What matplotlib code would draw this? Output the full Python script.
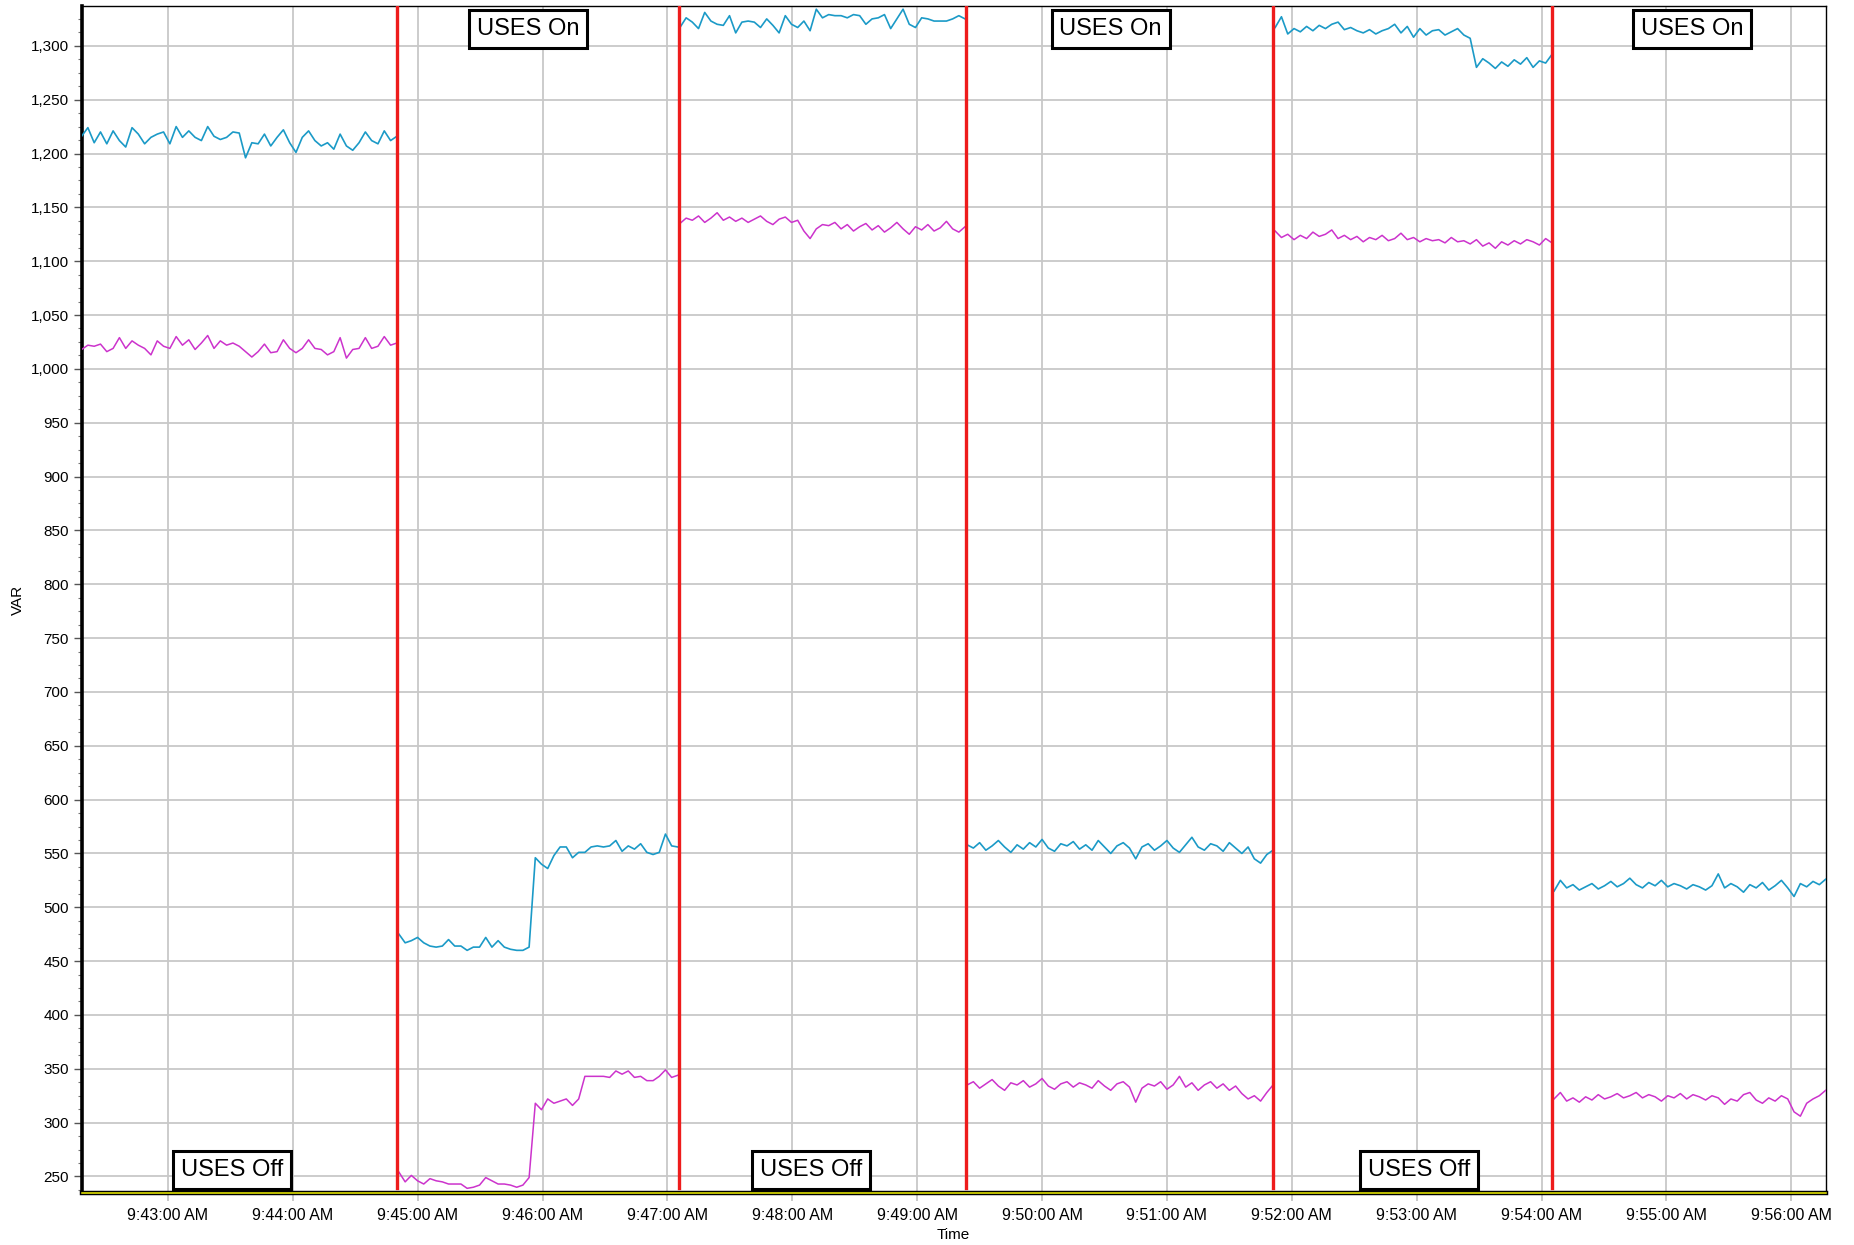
import matplotlib
matplotlib.use("Agg")
import matplotlib.pyplot as plt
import matplotlib.dates as mdates
from matplotlib.ticker import MultipleLocator, FuncFormatter
import numpy as np
import datetime as dt

plt.rcParams['font.family'] = ['Liberation Sans', 'DejaVu Sans']

# ---------------- data ----------------
x_start = "9:42:18.5"
x_end = "9:56:16.5"
seg_edges = ["9:42:18.5", "9:44:50.5", "9:47:05.5", "9:49:23.5", "9:51:51.5", "9:54:05.5", "9:56:16.5"]
red_lines = ["9:44:50.2", "9:47:05.4", "9:49:23.4", "9:51:51.1", "9:54:05.2"]

blue_seg1 = [1216, 1224, 1210, 1220, 1209, 1221, 1212, 1206, 1224, 1218, 1209, 1215, 1218,
             1220, 1209, 1225, 1215, 1221, 1215, 1212, 1225, 1216, 1213, 1215, 1220, 1219,
             1196, 1210, 1209, 1218, 1207, 1215, 1222, 1210, 1201, 1215, 1221, 1212, 1207,
             1210, 1204, 1218, 1207, 1203, 1210, 1220, 1212, 1209, 1221, 1212, 1216]
mag_seg1 = [1018, 1022, 1021, 1023, 1016, 1019, 1029, 1019, 1026, 1022, 1019, 1013, 1026,
            1021, 1019, 1030, 1022, 1027, 1018, 1024, 1031, 1019, 1026, 1022, 1024, 1021,
            1016, 1011, 1016, 1023, 1015, 1016, 1027, 1019, 1015, 1019, 1027, 1019, 1018,
            1013, 1016, 1029, 1010, 1018, 1019, 1029, 1019, 1021, 1030, 1022, 1024]

blue_seg2 = [475, 467, 469, 472, 467, 464, 463, 464, 470, 464, 464, 460, 463, 463, 472,
             463, 469, 463, 461, 460, 460, 463,
             546, 540, 536, 548, 556, 556, 546, 551, 551, 556, 557, 556, 557, 562, 552,
             557, 554, 559, 551, 549, 551, 568, 557, 556]
mag_seg2 = [254, 245, 251, 246, 243, 248, 246, 245, 243, 243, 243, 239, 240, 242, 249,
            246, 243, 243, 242, 240, 242, 249,
            318, 312, 322, 318, 320, 322, 316, 322,
            343, 343, 343, 343, 342, 348, 345, 348, 342, 343, 339, 339, 343, 349, 342, 344]

blue_seg3 = [1317, 1326, 1322, 1316, 1331, 1323, 1320, 1319, 1328, 1312, 1322, 1323, 1322,
             1317, 1325, 1319, 1312, 1328, 1320, 1317, 1323, 1314, 1334, 1326, 1329, 1328,
             1328, 1326, 1329, 1328, 1320, 1325, 1326, 1329, 1316, 1325, 1334, 1320, 1317,
             1326, 1325, 1323, 1323, 1323, 1325, 1328, 1325]
mag_seg3 = [1135, 1140, 1138, 1142, 1136, 1140, 1145, 1138, 1141, 1137, 1140, 1136, 1139,
            1142, 1137, 1134, 1139, 1141, 1136, 1138, 1128, 1121, 1130, 1134, 1133, 1136,
            1130, 1134, 1128, 1132, 1135, 1129, 1133, 1127, 1131, 1136, 1130, 1125, 1132,
            1129, 1134, 1128, 1131, 1137, 1130, 1127, 1132]

blue_seg4 = [558, 555, 560, 553, 557, 562, 556, 551, 558, 554, 560, 556, 563, 555, 552,
             559, 557, 561, 554, 558, 553, 562, 556, 550, 557, 560, 555, 545, 556, 559,
             553, 557, 562, 555, 551, 558, 565, 556, 553, 559, 557, 552, 560, 555, 550,
             556, 545, 541, 549, 553]
mag_seg4 = [335, 338, 332, 336, 340, 334, 330, 337, 335, 339, 333, 336, 341, 334, 331,
            336, 338, 333, 337, 335, 332, 339, 334, 330, 336, 338, 333, 319, 332, 336,
            334, 338, 331, 335, 343, 333, 337, 330, 335, 338, 332, 336, 330, 334, 327,
            322, 325, 320, 328, 335]

blue_seg5 = [1317, 1327, 1311, 1316, 1313, 1318, 1314, 1319, 1316, 1320, 1322, 1315, 1317,
             1314, 1312, 1315, 1311, 1314, 1316, 1320, 1312, 1318, 1308, 1316, 1310, 1314,
             1315, 1310, 1313, 1316, 1310, 1307, 1280, 1288, 1284, 1279, 1285, 1281, 1287,
             1283, 1289, 1280, 1286, 1284, 1292]
mag_seg5 = [1128, 1122, 1125, 1120, 1124, 1121, 1127, 1123, 1125, 1129, 1121, 1124, 1120,
            1123, 1118, 1122, 1120, 1124, 1119, 1121, 1126, 1120, 1122, 1118, 1121, 1119,
            1120, 1117, 1122, 1118, 1119, 1116, 1120, 1114, 1117, 1112, 1118, 1115, 1119,
            1116, 1120, 1118, 1115, 1121, 1117]

blue_seg6 = [515, 525, 518, 521, 516, 519, 522, 517, 520, 524, 519, 522, 527, 521, 518,
             523, 520, 525, 519, 522, 520, 517, 521, 519, 516, 520, 531, 518, 522, 519,
             514, 521, 518, 523, 516, 520, 525, 518, 510, 522, 519, 524, 521, 526]
mag_seg6 = [322, 328, 320, 323, 319, 324, 321, 326, 322, 324, 327, 323, 325, 328, 323,
            326, 324, 320, 325, 323, 327, 322, 326, 324, 321, 325, 323, 317, 322, 320,
            326, 328, 321, 318, 323, 320, 325, 322, 310, 306, 318, 322, 325, 330]

blue_segments = [blue_seg1, blue_seg2, blue_seg3, blue_seg4, blue_seg5, blue_seg6]
mag_segments = [mag_seg1, mag_seg2, mag_seg3, mag_seg4, mag_seg5, mag_seg6]

on_labels = ["USES On", "USES On", "USES On"]
on_times = ["9:45:53", "9:50:33", "9:55:12.4"]
off_labels = ["USES Off", "USES Off", "USES Off"]
off_times = ["9:43:30.7", "9:48:08.9", "9:53:01"]

y_min, y_max = 234.7, 1337
blue = '#1b9ac7'
magenta = '#cc33cc'
red = '#ee1c1c'


def T(s):
    h, m, sec = s.split(':')
    return mdates.date2num(dt.datetime(2020, 1, 1, int(h), int(m)) + dt.timedelta(seconds=float(sec)))


fig = plt.figure(figsize=(18.54, 12.45), dpi=100)
ax = fig.add_axes([0.044, 0.0418, 0.9407, 0.9534])

for i in range(6):
    t0, t1 = T(seg_edges[i]), T(seg_edges[i + 1])
    if i > 0:
        t0 += 0.5 / 86400
    if i < 5:
        t1 -= 0.5 / 86400
    tb = np.linspace(t0, t1, len(blue_segments[i]))
    tm = np.linspace(t0, t1, len(mag_segments[i]))
    ax.plot(tb, blue_segments[i], color=blue, lw=1.2, zorder=3)
    ax.plot(tm, mag_segments[i], color=magenta, lw=1.1, zorder=3)

for r in red_lines:
    ax.axvline(T(r), ymin=0.004, ymax=1, color=red, lw=2.4, zorder=4)

ax.set_xlim(T(x_start), T(x_end))
ax.set_ylim(y_min, y_max)

ax.xaxis.set_major_locator(mdates.MinuteLocator())
ax.xaxis.set_major_formatter(mdates.DateFormatter('%-I:%M:%S %p'))
ax.yaxis.set_major_locator(MultipleLocator(50))
ax.yaxis.set_minor_locator(MultipleLocator(12.5))
ax.yaxis.set_major_formatter(FuncFormatter(lambda v, p: f"{int(round(v)):,}"))

ax.grid(True, which='major', color='#c8c8c8', lw=1.3, zorder=0)
ax.set_axisbelow(True)
ax.tick_params(axis='x', which='major', length=6, width=1.2, color='#c0c0c0',
               labelsize=11.5, pad=5)
ax.tick_params(axis='y', which='major', length=6, width=1.0, color='#555555',
               labelsize=11, pad=3)
ax.tick_params(axis='y', which='minor', length=3, width=0.8, color='#777777')

for s in ['top', 'right']:
    ax.spines[s].set_linewidth(1.0)
    ax.spines[s].set_color('black')
ax.spines['left'].set_linewidth(2.6)
ax.spines['bottom'].set_linewidth(3.2)
ax.axhline(y_min, color='#f2f200', lw=1.1, zorder=6, clip_on=False)

box = dict(boxstyle='square,pad=0.33', fc='white', ec='black', lw=2.2)
for lab, t in zip(on_labels, on_times):
    ax.text(T(t), 1315.5, lab, fontsize=17, ha='center', va='center', bbox=box, zorder=7)
for lab, t in zip(off_labels, off_times):
    ax.text(T(t), 256, lab, fontsize=17, ha='center', va='center', bbox=box, zorder=7)

fig.text(18 / 1854, 0.5185, 'VAR', rotation=90, ha='center', va='center', fontsize=11)
fig.text(953 / 1854, 1 - 1235 / 1245, 'Time', ha='center', va='center', fontsize=11)

fig.savefig('out.png', dpi=100)
